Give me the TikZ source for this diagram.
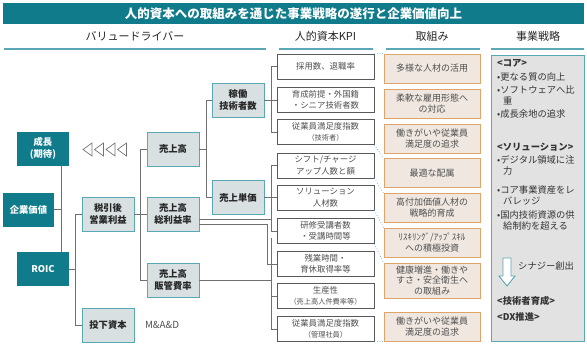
\documentclass[tikz,border=0pt]{standalone}
\usepackage{fontspec}
\setmainfont{Noto Sans CJK JP}
\usetikzlibrary{positioning,arrows.meta,calc}
\definecolor{tea}{HTML}{0F7B8B}
\definecolor{tealt}{HTML}{5AA8B6}
\definecolor{gbx}{HTML}{D9E0E2}
\definecolor{beig}{HTML}{EFE7E0}
\definecolor{orng}{HTML}{DFA468}
\definecolor{sgray}{HTML}{E2E2E2}
\definecolor{lin}{HTML}{707070}
\definecolor{txt}{HTML}{505050}

\tikzset{
  tbox/.style={fill=tea,text=white,font=\fontsize{9.3}{11.5}\selectfont\bfseries,
    minimum width=52pt,minimum height=34pt,inner sep=0pt,align=center},
  gbox/.style={fill=gbx,draw=tealt,line width=0.9pt,text=black!85,
    font=\fontsize{9.3}{11.5}\selectfont\bfseries,
    minimum width=52pt,minimum height=34pt,inner sep=0pt,align=center},
  kbox/.style={draw=black!65,fill=white,line width=0.7pt,text=txt,
    font=\fontsize{8.4}{11.5}\selectfont,
    minimum width=97pt,minimum height=25pt,inner sep=0pt,align=center},
  abox/.style={fill=beig,draw=orng,line width=0.9pt,text=txt,
    font=\fontsize{9}{10.8}\selectfont,
    minimum width=96pt,minimum height=29pt,inner sep=0pt,align=center},
  hdr/.style={font=\fontsize{11}{13}\selectfont,text=black!85},
  stxt/.style={anchor=west,inner sep=0pt,text=black!80,font=\fontsize{9.3}{11}\selectfont},
  shead/.style={stxt,font=\fontsize{9.3}{11}\selectfont\bfseries},
  con/.style={draw=lin,line width=0.8pt},
  dotlink/.style={draw=tealt,dotted,line width=0.7pt},
}

\begin{document}
\begin{tikzpicture}[x=1pt,y=-1pt]
  \useasboundingbox (0,0) rectangle (587,346);
  % title bar
  \node[fill=tea,text=white,font=\fontsize{12.5}{14}\selectfont\bfseries,
    minimum width=581pt,minimum height=21pt,inner sep=0pt] (title) at (293.5,13.5)
    {人的資本への取組みを通じた事業戦略の遂行と企業価値向上};

  % column heads
  \node[hdr] (hvd) at (135,36) {バリュードライバー};
  \node[hdr] (hkpi) at (325.5,36) {人的資本KPI};
  \node[hdr] (hact) at (432,36) {取組み};
  \node[hdr] (hstr) at (538,36) {事業戦略};
  \foreach \a/\b in {4/266,279/373,386/480,491/584}
    \draw[tealt,line width=2pt] (\a,49) -- (\b,49);

  % value drivers
  \node[tbox] (grow) at (43,148.5) {成長\\(期待)};
  \node[tbox,minimum width=51pt] (kv) at (28.5,209.5) {企業価値};
  \node[tbox] (roic) at (43,269) {ROIC};
  \coordinate (spine) at (61,0);
  \draw[con] (grow.south -| spine) -- (roic.north -| spine);
  \draw[con] (kv.east) -- (kv.east -| spine);

  \foreach \i in {0,...,3}
    \draw[black!55,line width=0.7pt] (92+11.5*\i,143) -- (83+11.5*\i,149.5) -- (92+11.5*\i,156) -- cycle;

  \node[gbox] (uri) at (173,149) {売上高};
  \node[gbox] (kado) at (238,100) {稼働\\技術者数};
  \node[gbox] (tanka) at (238,197.5) {売上単価};
  \node[gbox] (zeibiki) at (108,214) {税引後\\営業利益};
  \node[gbox] (sori) at (173,214) {売上高\\総利益率};
  \node[gbox] (hankan) at (173,280) {売上高\\販管費率};
  \node[gbox] (toka) at (108,325) {投下資本};
  \node[text=txt,font=\fontsize{9.8}{11}\selectfont] (mad) at (162,325) {M\&A\&D};

  % human capital KPI
  \node[kbox] (k1) at (325.5,66.5) {採用数、退職率};
  \node[kbox] (k2) at (325.5,100) {育成前提・外国籍\\・シニア技術者数};
  \node[kbox] (k3) at (325.5,132) {従業員満足度指数\\{\fontsize{7.2}{9}\selectfont （技術者）}};
  \node[kbox] (k4) at (325.5,165.5) {シフト/チャージ\\アップ人数と額};
  \node[kbox] (k5) at (325.5,197.5) {ソリューション\\人材数};
  \node[kbox] (k6) at (325.5,231) {研修受講者数\\・受講時間等};
  \node[kbox] (k7) at (325.5,264) {残業時間・\\育休取得率等};
  \node[kbox] (k8) at (325.5,296) {生産性\\{\fontsize{7.2}{9}\selectfont （売上高人件費率等）}};
  \node[kbox] (k9) at (325.5,329) {従業員満足度指数\\{\fontsize{7.2}{9}\selectfont （管理社員）}};

  % tree lines
  \draw[con] (roic.east) -- ++(6.5,0) coordinate (r1);
  \draw[con] (r1) |- (zeibiki.west);
  \draw[con] (r1) |- (toka.west);
  \draw[con] (zeibiki.east) -- (sori.west);
  \draw[con] ($(zeibiki.east)!0.5!(sori.west)$) |- (uri.west);
  \draw[con] ($(zeibiki.east)!0.5!(sori.west)$) |- (hankan.west);
  \draw[con] (uri.east) -- ++(6.5,0) coordinate (u1);
  \draw[con] (u1) |- (kado.west);
  \draw[con] (u1) |- (tanka.west);
  \draw[con] (kado.east) -- (k2.west);
  \draw[con] ($(k2.west)+(-5,0)$) |- (k1.west);
  \draw[con] ($(k2.west)+(-5,0)$) |- (k3.west);
  \draw[con] (tanka.east) -- (k5.west);
  \coordinate (b2) at ($(k5.west)+(-5,0)$);
  \draw[con] (b2) |- (k4.west);
  \draw[con] (b2) |- (k6.west);
  \draw[con] ([yshift=-5pt]sori.east) -- ([yshift=-5pt]sori.east -| b2);
  \draw[con] ([yshift=-10pt]sori.east) -| ($(k7.west)+(-9,0)$) -- (k7.west);
  \coordinate (b3) at ($(k8.west)+(-5,0)$);
  \draw[con] (hankan.east) -- (hankan.east -| b3);
  \draw[con] ($(k7.west)+(-5,-26)$) |- (k9.west);
  \draw[con] ($(k7.west)+(-5,0)$) -- (k7.west);
  \draw[con] (b3) -- (k8.west);

  % initiatives
  \node[abox] (a1) at (432,68.5) {多様な人材の活用};
  \node[abox] (a2) at (432,103.5) {柔軟な雇用形態へ\\の対応};
  \node[abox] (a3) at (432,138.5) {働きがいや従業員\\満足度の追求};
  \node[abox] (a4) at (432,173) {最適な配属};
  \node[abox] (a5) at (432,208) {高付加価値人材の\\戦略的育成};
  \node[abox] (a6) at (432,242.5) {ﾘｽｷﾘﾝｸﾞ/ｱｯﾌﾟｽｷﾙ\\への積極投資};
  \node[abox,minimum height=35pt] (a7) at (432,280.5) {健康増進・働きや\\すさ・安全衛生へ\\の取組み};
  \node[abox] (a8) at (432,326.5) {働きがいや従業員\\満足度の追求};

  \draw[dotlink] (k1.north east) -- (a1.north west);
  \draw[dotlink] (k3.south east) -- (a4.north west);
  \draw[dotlink] (k4.south east) -- (a5.north west);
  \draw[dotlink] (k5.south east) -- (a6.north west);
  \draw[dotlink] (k6.south east) -- (a7.north west);
  \draw[dotlink] (k9.south east) -- (a8.south west);

  % business strategy
  \node[fill=sgray,draw=tealt,line width=0.9pt,minimum width=93pt,minimum height=286pt,inner sep=0pt] (strat) at (537.5,198) {};
  \node[shead] (s1) at (497,63) {<コア>};
  \node[stxt] (s2) at (497,77) {•更なる質の向上};
  \node[stxt] (s3) at (497,90) {•ソフトウェアへ比};
  \node[stxt] (s4) at (503,101) {重};
  \node[stxt] (s5) at (497,114) {•成長余地の追求};
  \node[shead] (s6) at (497,147) {<ソリューション>};
  \node[stxt] (s7) at (497,160) {•デジタル領域に注};
  \node[stxt] (s8) at (503,171) {力};
  \node[stxt] (s9) at (497,190) {•コア事業資産をレ};
  \node[stxt] (s10) at (503,201) {バレッジ};
  \node[stxt] (s11) at (497,215) {•国内技術資源の供};
  \node[stxt] (s12) at (503,226) {給制約を超える};
  \draw[tealt,fill=white,line width=0.9pt] (503,258) -- (511,258) -- (511,276) -- (515,276)
    -- (507,286) -- (499,276) -- (503,276) -- cycle;
  \node[stxt] (s13) at (518,266) {シナジー創出};
  \node[shead] (s14) at (497,301) {<技術者育成>};
  \node[shead] (s15) at (497,317) {<DX推進>};
\end{tikzpicture}
\end{document}
